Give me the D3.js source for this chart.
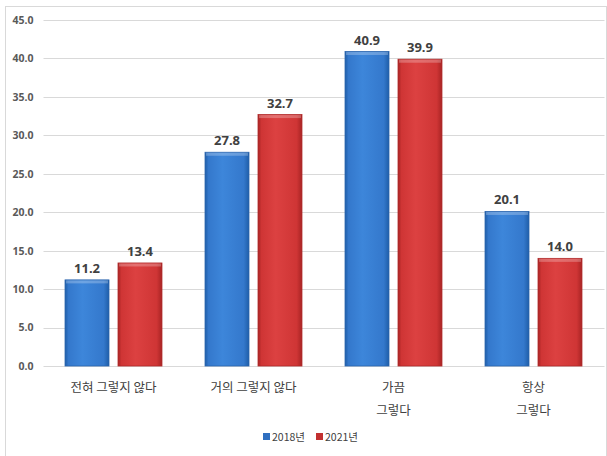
<!DOCTYPE html>
<html>
<head>
<meta charset="utf-8">
<script src="https://cdn.jsdelivr.net/npm/d3@7"></script>
<style>
  html, body { margin: 0; padding: 0; background: #fff; }
  svg { display: block; font-family: "Noto Sans CJK KR", "Noto Sans", sans-serif; }
</style>
</head>
<body>
<svg id="chart" width="607" height="456"></svg>
<script>
// Survey response categories (two-line labels split by "\n")
const categories = ["전혀 그렇지 않다", "거의 그렇지 않다", "가끔\n그렇다", "항상\n그렇다"];
const seriesNames = ["2018년", "2021년"];
const values2018 = [11.2, 27.8, 40.9, 20.1];
const values2021 = [13.4, 32.7, 39.9, 14.0];
const yTicks = [0, 5, 10, 15, 20, 25, 30, 35, 40, 45];

const svg = d3.select("#chart");
const W = 607, H = 456;
const margin = { left: 43.5, right: 3.5, top: 20, bottom: 90 };

// outer frame
svg.append("rect")
  .attr("x", 5.5).attr("y", 6.5).attr("width", W - 6).attr("height", H - 6)
  .attr("fill", "none").attr("stroke", "#d9d9d9").attr("stroke-width", 1);

const x0 = d3.scaleBand()
  .domain(categories)
  .range([margin.left, W - margin.right])
  .paddingInner(0).paddingOuter(0);

const x1 = d3.scaleBand()
  .domain(seriesNames)
  .range([0, x0.bandwidth()])
  .paddingInner(0.17).paddingOuter(0.406);

const y = d3.scaleLinear().domain([0, 45]).range([H - margin.bottom, margin.top]);

// gradients for bars
const defs = svg.append("defs");
function makeGrad(id, dark, mid, light) {
  const g = defs.append("linearGradient").attr("id", id)
    .attr("x1", "0").attr("y1", "0").attr("x2", "1").attr("y2", "0");
  g.append("stop").attr("offset", "0%").attr("stop-color", dark);
  g.append("stop").attr("offset", "8%").attr("stop-color", mid);
  g.append("stop").attr("offset", "40%").attr("stop-color", light);
  g.append("stop").attr("offset", "88%").attr("stop-color", mid);
  g.append("stop").attr("offset", "100%").attr("stop-color", dark);
}
makeGrad("gBlue", "#1f5ea8", "#3478cc", "#3d86da");
makeGrad("gRed", "#a82424", "#cf3535", "#dc4141");
const fills = { "2018년": "url(#gBlue)", "2021년": "url(#gRed)" };
const strokes = { "2018년": "#2a64ad", "2021년": "#b02a2a" };
const legendFill = { "2018년": "#2f6fc0", "2021년": "#c23030" };

// gridlines
svg.append("g").selectAll("line").data(yTicks).join("line")
  .attr("x1", margin.left).attr("x2", W - margin.right + 1)
  .attr("y1", d => Math.round(y(d)) + 0.5).attr("y2", d => Math.round(y(d)) + 0.5)
  .attr("stroke", "#d9d9d9").attr("stroke-width", 1);

// y axis labels
const yAxis = d3.axisLeft(y).tickValues(yTicks).tickFormat(d3.format(".1f")).tickSize(0).tickPadding(10);
const yg = svg.append("g").attr("transform", `translate(${margin.left},0)`).call(yAxis);
yg.select(".domain").remove();
yg.selectAll("text").attr("fill", "#595959").attr("font-size", 10.5).attr("font-weight", "bold")
  .attr("font-family", "'Liberation Sans Narrow', 'Noto Sans', sans-serif");

// bars
const data = categories.map((c, i) => ({ cat: c, vals: [
  { s: seriesNames[0], v: values2018[i] },
  { s: seriesNames[1], v: values2021[i] }
]}));

const groups = svg.append("g").selectAll("g").data(data).join("g")
  .attr("transform", d => `translate(${x0(d.cat)},0)`);

groups.selectAll("rect.bar").data(d => d.vals).join("rect")
  .attr("class", "bar")
  .attr("x", d => x1(d.s))
  .attr("y", d => y(d.v))
  .attr("width", x1.bandwidth())
  .attr("height", d => y(0) - y(d.v))
  .attr("fill", d => fills[d.s])
  .attr("stroke", d => strokes[d.s]).attr("stroke-width", 0.8);

// top bevel highlight
groups.selectAll("rect.bevel").data(d => d.vals).join("rect")
  .attr("class", "bevel")
  .attr("x", d => x1(d.s) + 1)
  .attr("y", d => y(d.v) + 0.5)
  .attr("width", x1.bandwidth() - 2)
  .attr("height", 3)
  .attr("fill", "#ffffff").attr("opacity", 0.25);

// value labels
groups.selectAll("text.val").data(d => d.vals).join("text")
  .attr("class", "val")
  .attr("x", d => x1(d.s) + x1.bandwidth() / 2)
  .attr("y", d => y(d.v) - 7)
  .attr("text-anchor", "middle")
  .attr("font-size", 13).attr("font-weight", "bold").attr("fill", "#404040")
  .attr("font-family", "'Liberation Sans Narrow', 'Noto Sans', sans-serif")
  .text(d => d.v.toFixed(1));

// category labels
const catG = svg.append("g");
categories.forEach(c => {
  const lines = c.split("\n");
  const t = catG.append("text")
    .attr("x", x0(c) + x0.bandwidth() / 2)
    .attr("text-anchor", "middle")
    .attr("font-size", 12.5).attr("fill", "#404040");
  lines.forEach((l, i) => {
    t.append("tspan").attr("x", x0(c) + x0.bandwidth() / 2)
      .attr("y", y(0) + 26 + i * 23).text(l);
  });
});

// legend
const legend = svg.append("g").attr("transform", "translate(263,441)");
const legItems = [{ s: seriesNames[0], dx: 0 }, { s: seriesNames[1], dx: 53 }];
legItems.forEach(it => {
  legend.append("rect").attr("x", it.dx).attr("y", -8).attr("width", 7).attr("height", 7)
    .attr("fill", legendFill[it.s]);
  legend.append("text").attr("x", it.dx + 9).attr("y", 0)
    .attr("font-size", 10.5).attr("fill", "#404040")
    .text(it.s);
});
</script>
</body>
</html>
